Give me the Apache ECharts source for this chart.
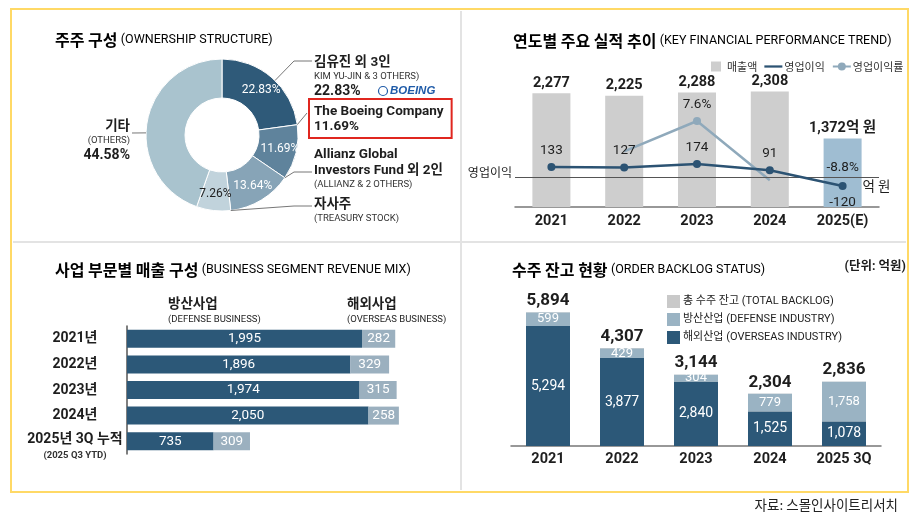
<!DOCTYPE html>
<html>
<head>
<meta charset="utf-8">
<script src="https://cdn.jsdelivr.net/npm/echarts@6/dist/echarts.min.js"></script>
<style>
  html, body { margin: 0; padding: 0; background: #fff; }
  #chart { width: 924px; height: 522px; }
</style>
</head>
<body>
<div id="chart"></div>
<script>
// 주주 구성
const ownerNames = ['김유진 외 3인', 'The Boeing Company', 'Allianz Global\nInvestors Fund 외 2인', '자사주', '기타']
const ownerNamesEn = ['KIM YU-JIN & 3 OTHERS)', '', '(ALLIANZ & 2 OTHERS)', '(TREASURY STOCK)', '(OTHERS)']
const ownerShares = [22.83, 11.69, 13.64, 7.26, 44.58]

// 연도별 주요 실적 추이 (억 원, %)
const perfYears = ['2021', '2022', '2023', '2024', '2025(E)']
const revenue = [2277, 2225, 2288, 2308, 1372]
const opIncome = [133, 127, 174, 91, -120]
const opMargin = [null, 5.7, 7.6, 3.9, -8.8]

// 사업 부문별 매출 구성
const segYears = ['2021년', '2022년', '2023년', '2024년', '2025년 3Q 누적']
const defenseRev = [1995, 1896, 1974, 2050, 735]
const overseasRev = [282, 329, 315, 258, 309]

// 수주 잔고 현황
const backlogYears = ['2021', '2022', '2023', '2024', '2025 3Q']
const backlogTotal = [5894, 4307, 3144, 2304, 2836]
const backlogDefense = [599, 429, 304, 779, 1758]
const backlogOverseas = [5294, 3877, 2840, 1525, 1078]

const LAT = 'Roboto, "Noto Sans CJK KR", sans-serif'
const KR = '"Noto Sans CJK KR", sans-serif'
const DARK = '#2c5878'
const INK = '#1e1e1e'
const fmt = v => v.toLocaleString('en-US')
const last = perfYears.length - 1

// 도넛 모양 / 색상 / 바깥 라벨 위치
const PIE_C = [222, 135]
const PIE_R = [37, 76]
const ownerColors = ['#2f5a79', '#5f839c', '#87a4b7', '#c1d3dc', '#a9c3ce']
const ownerLabelSpots = [
  { x: 314, y: 55, lineY: 61, align: 'left' },
  { x: 309, y: 99, lineY: 113, align: 'left' },
  { x: 314, y: 147, lineY: 172, align: 'left' },
  { x: 314, y: 197, lineY: 206, align: 'left' },
  { x: 130, y: 119, lineY: 133, align: 'right' }
]
const ownerOutsidePct = [true, true, false, false, true]

// 각 조각의 각도 범위 (12시 방향 시작, 시계 방향)
const shareSum = ownerShares.reduce((a, b) => a + b, 0)
const sliceRange = []
ownerShares.reduce((acc, v) => {
  const a0 = 90 - acc / shareSum * 360
  const a1 = 90 - (acc + v) / shareSum * 360
  sliceRange.push([a1, a0])
  return acc + v
}, 0)

const leaderPoints = (i) => {
  const s = ownerLabelSpots[i]
  const right = s.align === 'left'
  const p2 = [right ? s.x - 2 : s.x + 2, s.lineY]
  let p1 = [right ? p2[0] - 18 : p2[0] + 18, s.lineY]
  let ang = Math.atan2(PIE_C[1] - p1[1], p1[0] - PIE_C[0]) * 180 / Math.PI
  const [lo, hi] = sliceRange[i]
  while (ang > hi) ang -= 360
  while (ang < lo) ang += 360
  if (ang > hi) ang = (ang - hi) < (lo + 360 - ang) ? hi : lo
  const rad = ang * Math.PI / 180
  const p0 = [PIE_C[0] + PIE_R[1] * Math.cos(rad), PIE_C[1] - PIE_R[1] * Math.sin(rad)]
  if ((right && p1[0] < p0[0]) || (!right && p1[0] > p0[0])) p1 = p0.slice()
  return [p0, p1, p2]
}

const ownerLabelText = (i) => {
  const parts = ownerNames[i].split('\n').map(s => i === 1 ? '{b|' + s + '}' : '{n|' + s + '}')
  if (ownerNamesEn[i]) parts.push('{e|' + ownerNamesEn[i] + '}')
  if (ownerOutsidePct[i]) parts.push((i === 1 ? '{b|' : '{p|') + ownerShares[i].toFixed(2) + '%}')
  return parts.join('\n')
}

const titleRich = {
  k: { fontFamily: KR, fontSize: 16, fontWeight: 'bold', color: INK },
  e: { fontFamily: LAT, fontSize: 12.5, color: INK }
}
const title = (x, y, k, e) => ({
  type: 'text', x: x, y: y,
  style: { text: '{k|' + k + '} {e|' + e + '}', rich: titleRich, verticalAlign: 'middle' }
})
const plainText = (x, y, text, size, weight, align) => ({
  type: 'text', x: x, y: y,
  style: { text: text, fontFamily: LAT, fontSize: size, fontWeight: weight || 'normal', fill: INK, align: align || 'left', verticalAlign: 'middle' }
})

const chart = echarts.init(document.getElementById('chart'))

chart.setOption({
  animation: false,
  backgroundColor: '#fff',
  textStyle: { fontFamily: LAT },
  graphic: [
    { type: 'rect', shape: { x: 11, y: 9, width: 897, height: 483 }, style: { fill: 'none', stroke: '#ffd966', lineWidth: 2 } },
    { type: 'line', shape: { x1: 461, y1: 11, x2: 461, y2: 490 }, style: { stroke: '#e3e3e3', lineWidth: 2 } },
    { type: 'line', shape: { x1: 13, y1: 242, x2: 906, y2: 242 }, style: { stroke: '#e3e3e3', lineWidth: 2 } },
    title(55, 40, '주주 구성', '(OWNERSHIP STRUCTURE)'),
    title(513, 41, '연도별 주요 실적 추이', '(KEY FINANCIAL PERFORMANCE TREND)'),
    title(55, 270, '사업 부문별 매출 구성', '(BUSINESS SEGMENT REVENUE MIX)'),
    title(512, 270, '수주 잔고 현황', '(ORDER BACKLOG STATUS)'),
    plainText(906, 267, '(단위: 억원)', 12.5, 'bold', 'right'),
    plainText(168, 305, '방산사업', 13.5, 'bold'),
    plainText(168, 320, '(DEFENSE BUSINESS)', 9.5),
    plainText(347, 305, '해외사업', 13.5, 'bold'),
    plainText(347, 320, '(OVERSEAS BUSINESS)', 9.5),
    { type: 'circle', shape: { cx: 383, cy: 91, r: 4.5 }, style: { fill: 'none', stroke: '#1f5ba8', lineWidth: 1.2 } },
    { type: 'text', x: 390, y: 91, style: { text: 'BOEING', fontFamily: '"Liberation Sans", sans-serif', fontSize: 11.5, fontWeight: 'bold', fontStyle: 'italic', fill: '#1f5ba8', verticalAlign: 'middle' } },
    { type: 'text', x: 898, y: 505, style: { text: '자료: 스몰인사이트리서치', fontFamily: KR, fontSize: 13.5, fill: '#222', align: 'right', verticalAlign: 'middle' } }
  ],
  legend: [
    {
      left: 706, top: 56, width: 210, itemWidth: 18, itemHeight: 10, itemGap: 7, selectedMode: false,
      data: [
        { name: '매출액', icon: 'path://M0,0H10V10H0Z' },
        { name: '영업이익', icon: 'path://M0,0H40V5H0Z' },
        { name: '영업이익률' }
      ],
      textStyle: { fontFamily: KR, fontSize: 11, color: '#333', padding: [0, 0, 0, -3] }
    },
    {
      orient: 'vertical', left: 662, top: 290, itemWidth: 13, itemHeight: 13, itemGap: 5, icon: 'rect', selectedMode: false,
      data: ['총 수주 잔고 (TOTAL BACKLOG)', '방산산업 (DEFENSE INDUSTRY)', '해외산업 (OVERSEAS INDUSTRY)'],
      textStyle: { fontFamily: LAT, fontSize: 11, color: '#222', padding: [0, 0, 0, -2] }
    }
  ],
  grid: [
    { left: 515, top: 57, width: 364, height: 150 },
    { left: 127, top: 326, width: 294.5, height: 128 },
    { left: 511, top: 310, width: 370, height: 136 }
  ],
  xAxis: [
    {
      gridIndex: 0, type: 'category', data: perfYears,
      axisLine: { lineStyle: { color: '#777', width: 1.5 } }, axisTick: { show: false },
      axisLabel: { interval: 0, fontSize: 14.5, fontWeight: 'bold', color: INK, margin: 7 }
    },
    { gridIndex: 1, type: 'value', min: 0, max: 2500, show: false },
    {
      gridIndex: 2, type: 'category', data: backlogYears,
      axisLine: { lineStyle: { color: '#777', width: 1.5 } }, axisTick: { show: false },
      axisLabel: { interval: 0, fontSize: 14.5, fontWeight: 'bold', color: INK, margin: 6 }
    }
  ],
  yAxis: [
    { gridIndex: 0, type: 'value', min: 0, max: 3000, show: false },
    { gridIndex: 0, type: 'value', min: -400, max: 1600, show: false },
    { gridIndex: 0, type: 'value', min: 2.225, max: 11.6, show: false },
    {
      gridIndex: 1, type: 'category', data: segYears, inverse: true,
      axisLine: { lineStyle: { color: '#555', width: 1.5 } }, axisTick: { show: false },
      axisLabel: {
        interval: 0, align: 'center', margin: 52, color: INK,
        formatter: v => v.indexOf('3Q') > -1
          ? '{p| }\n{b|' + v + '}\n{s|(2025 Q3 YTD)}'
          : '{b|' + v + '}',
        rich: {
          p: { lineHeight: 11, fontSize: 4 },
          b: { fontFamily: LAT, fontSize: 14, fontWeight: 'bold', color: INK, lineHeight: 18 },
          s: { fontFamily: LAT, fontSize: 9.5, fontWeight: 'bold', color: '#333', lineHeight: 14 }
        }
      }
    },
    { gridIndex: 2, type: 'value', min: 0, max: 6000, show: false }
  ],
  series: [
    // 도넛
    {
      type: 'pie', center: PIE_C, radius: PIE_R, startAngle: 90, clockwise: true, silent: true, z: 2,
      avoidLabelOverlap: false,
      itemStyle: { borderColor: '#fff', borderWidth: 1 },
      data: ownerShares.map((v, i) => ({
        value: v, name: ownerNames[i],
        itemStyle: { color: ownerColors[i] },
        label: { show: i !== 4, color: i === 3 ? '#222' : '#fff' }
      })),
      label: { position: 'inside', fontSize: 12, fontFamily: LAT, formatter: p => p.value.toFixed(2) + '%' },
      labelLine: { show: false }
    },
    // 도넛 바깥 라벨
    {
      type: 'pie', center: PIE_C, radius: PIE_R, startAngle: 90, clockwise: true, silent: true, z: 3,
      avoidLabelOverlap: false,
      itemStyle: { color: 'rgba(0,0,0,0)' },
      data: ownerShares.map((v, i) => ({
        value: v, name: ownerNames[i] + ' ',
        label: i === 1
          ? { formatter: ownerLabelText(i), borderColor: '#e0261f', borderWidth: 2, padding: [5, 8, 4, 5] }
          : { formatter: ownerLabelText(i) }
      })),
      label: {
        position: 'outside', color: INK,
        rich: {
          n: { fontFamily: LAT, fontSize: 13.5, fontWeight: 'bold', color: INK, lineHeight: 16 },
          b: { fontFamily: LAT, fontSize: 13.5, fontWeight: 'bold', color: INK, lineHeight: 15 },
          e: { fontFamily: LAT, fontSize: 9.5, color: '#333', lineHeight: 12 },
          p: { fontFamily: LAT, fontSize: 14, fontWeight: 'bold', color: INK, lineHeight: 17 }
        }
      },
      labelLine: { show: true, length: 6, length2: 10, lineStyle: { color: '#777', width: 1 } },
      labelLayout: p => {
        const s = ownerLabelSpots[p.dataIndex]
        return { x: s.x, y: s.y, align: s.align, verticalAlign: 'top', labelLinePoints: leaderPoints(p.dataIndex) }
      }
    },
    // 매출액
    {
      type: 'bar', name: '매출액', xAxisIndex: 0, yAxisIndex: 0, barWidth: 38,
      itemStyle: { color: '#cecece' },
      data: revenue.map((v, i) => ({ value: v, itemStyle: { color: i === last ? '#9fbdd2' : '#cecece' } })),
      label: {
        show: true, position: 'top', distance: 3, fontSize: 14.5, fontWeight: 'bold', color: INK,
        formatter: p => fmt(p.value) + (p.dataIndex === last ? '억 원' : '')
      }
    },
    // 영업이익
    {
      type: 'line', name: '영업이익', xAxisIndex: 0, yAxisIndex: 1, z: 5,
      symbol: 'circle', symbolSize: 8,
      lineStyle: { color: '#2c5373', width: 2.5 }, itemStyle: { color: '#2c5373' },
      data: opIncome.map((v, i) => i === last ? { value: v, label: { position: 'bottom' } } : v),
      label: { show: true, position: 'top', distance: 6, fontSize: 13.5, color: INK },
      markLine: {
        silent: true, symbol: 'none', data: [{ yAxis: 0 }],
        lineStyle: { color: '#555', width: 1.2, type: 'solid' },
        label: { show: true, position: 'start', formatter: '영업이익', fontFamily: KR, color: INK, fontSize: 12, distance: 3, offset: [0, -5] }
      },
      markPoint: {
        symbol: 'circle', symbolSize: 0, silent: true,
        label: { show: true, fontSize: 13.5, color: INK },
        data: [
          { coord: [last, opIncome[last]], label: { formatter: opMargin[last] + '%', position: 'top', distance: 12 } },
          { coord: [last, opIncome[last]], label: { formatter: '억 원', fontFamily: KR, position: 'right', distance: 20 } }
        ]
      }
    },
    // 영업이익률
    {
      type: 'line', name: '영업이익률', xAxisIndex: 0, yAxisIndex: 2, z: 4,
      symbol: 'circle', symbolSize: (v, p) => (p.dataIndex === 2 ? 8 : 0),
      lineStyle: { color: '#8fa9bb', width: 2.5 }, itemStyle: { color: '#8fa9bb' },
      data: opMargin.map((v, i) => (i < last ? v : null)),
      label: { show: true, position: 'top', distance: 6, fontSize: 13.5, color: INK, formatter: p => (p.dataIndex === 2 ? p.value + '%' : '') }
    },
    // 사업 부문별 매출
    {
      type: 'bar', name: '방산사업', xAxisIndex: 1, yAxisIndex: 3, stack: 'seg', barWidth: 18,
      itemStyle: { color: DARK }, data: defenseRev,
      label: { show: true, position: 'inside', color: '#fff', fontSize: 13.5, formatter: p => fmt(p.value) }
    },
    {
      type: 'bar', name: '해외사업', xAxisIndex: 1, yAxisIndex: 3, stack: 'seg', barWidth: 18,
      itemStyle: { color: '#9bb0bf' }, data: overseasRev,
      label: { show: true, position: 'inside', color: '#fff', fontSize: 13.5, formatter: p => fmt(p.value) }
    },
    // 수주 잔고
    {
      type: 'bar', name: '총 수주 잔고 (TOTAL BACKLOG)', xAxisIndex: 2, yAxisIndex: 4, barWidth: 44, barGap: '-100%',
      itemStyle: { color: '#c9c9c9' }, data: backlogTotal,
      label: { show: true, position: 'top', distance: 3, fontSize: 17, fontWeight: 'bold', color: INK, formatter: p => fmt(p.value) }
    },
    {
      type: 'bar', name: '해외산업 (OVERSEAS INDUSTRY)', xAxisIndex: 2, yAxisIndex: 4, stack: 'bk', barWidth: 44, barGap: '-100%',
      itemStyle: { color: DARK }, data: backlogOverseas,
      label: { show: true, position: 'inside', color: '#fff', fontSize: 14, formatter: p => fmt(p.value) }
    },
    {
      type: 'bar', name: '방산산업 (DEFENSE INDUSTRY)', xAxisIndex: 2, yAxisIndex: 4, stack: 'bk', barWidth: 44, barGap: '-100%',
      itemStyle: { color: '#9ab3c3' }, data: backlogDefense,
      label: {
        show: true, position: 'inside', color: '#fff', fontSize: 13, formatter: p => fmt(p.value),
        fontWeight: 'normal'
      }
    }
  ]
})
</script>
</body>
</html>
